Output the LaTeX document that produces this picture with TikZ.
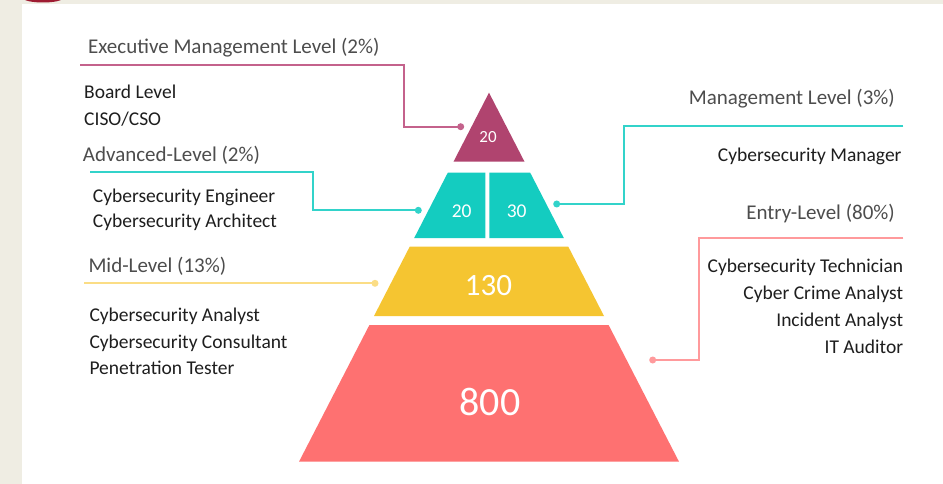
\documentclass[tikz,border=0pt]{standalone}
\usepackage{fontspec}
\setmainfont{Carlito}
\definecolor{cream}{HTML}{EFEDE3}
\definecolor{darkred}{HTML}{9E1B32}
\definecolor{magenta}{HTML}{B0446F}
\definecolor{teal}{HTML}{14CCC0}
\definecolor{gold}{HTML}{F5C531}
\definecolor{salmon}{HTML}{FE7171}
\definecolor{magline}{HTML}{C4628C}
\definecolor{tealline}{HTML}{32D3CA}
\definecolor{goldline}{HTML}{FBDD85}
\definecolor{salline}{HTML}{FF9A9C}
\definecolor{headgray}{HTML}{4D4D4D}
\definecolor{bodygray}{HTML}{1E1E1E}
\begin{document}
\begin{tikzpicture}[x=1pt,y=-1pt,
  heading/.style={inner sep=0pt,text=headgray,font=\fontsize{21}{25}\selectfont},
  bodytext/.style={inner sep=0pt,text=bodygray,font=\fontsize{19.5}{24}\selectfont},
  tiernum/.style={inner sep=0pt,text=white},
  leader/.style={line width=2.3pt},
  dotmark/.style={circle,inner sep=0pt,minimum size=7pt}
]
\useasboundingbox (0,0) rectangle (943,484);
\fill[cream] (0,0) rectangle (943,484);
\fill[white] (22,4) rectangle (943,484);
\begin{scope}
  \clip (0,0) rectangle (943,484);
  \fill[darkred] (43,-2) ellipse [x radius=20, y radius=4.5];
\end{scope}

% pyramid tiers
\fill[magenta] (489,92.7) -- (524.5,161.7) -- (453.5,161.7) -- cycle;
\fill[teal] (447.8,172.7) -- (485.3,172.7) -- (485.3,238) -- (414.2,238) -- cycle;
\fill[teal] (489.3,172.7) -- (530.2,172.7) -- (563.8,238) -- (489.3,238) -- cycle;
\fill[gold] (409.7,246.7) -- (568.3,246.7) -- (604,316) -- (374,316) -- cycle;
\fill[salmon] (369.4,325) -- (608.6,325) -- (679,461.7) -- (299,461.7) -- cycle;

\node[tiernum,font=\fontsize{17}{20}\selectfont] (n1) at (488,137) {20};
\node[tiernum,font=\fontsize{19.5}{22}\selectfont] (n2a) at (461.7,211) {20};
\node[tiernum,font=\fontsize{19.5}{22}\selectfont] (n2b) at (516.7,211) {30};
\node[tiernum,font=\fontsize{31}{36}\selectfont] (n3) at (488.5,286) {130};
\node[tiernum,font=\fontsize{40}{46}\selectfont] (n4) at (490,402) {800};

% dots on pyramid side
\node[dotmark,fill=magline] (d1) at (460.7,126.7) {};
\node[dotmark,fill=tealline] (d2) at (418.3,210.3) {};
\node[dotmark,fill=goldline] (d3) at (375,283.3) {};
\node[dotmark,fill=tealline] (d5) at (556.7,204) {};
\node[dotmark,fill=salline] (d4) at (652.7,360) {};

% line ends and bends
\coordinate (s1) at (80,65);   \coordinate (b1) at (404,65);
\coordinate (s2) at (90,172.3); \coordinate (b2) at (312.7,172.3);
\coordinate (s3) at (84.3,283.3);
\coordinate (s5) at (903.3,126.3); \coordinate (b5) at (624,126.3);
\coordinate (s4) at (903.3,238); \coordinate (b4) at (699,238);

\draw[leader,magline] (s1) -- (b1) |- (d1.center);
\draw[leader,tealline] (s2) -- (b2) |- (d2.center);
\draw[leader,goldline] (s3) -- (d3.center);
\draw[leader,tealline] (s5) -- (b5) |- (d5.center);
\draw[leader,salline] (s4) -- (b4) |- (d4.center);

% left texts
\node[heading,anchor=base west] (h1) at (88,54) {Executive Management Level (2\%)};
\node[bodytext,anchor=base west] (t1a) at (84,98.5) {Board Level};
\node[bodytext,anchor=base west] (t1b) at (84,125.2) {CISO/CSO};
\node[heading,anchor=base west] (h2) at (82.7,161.5) {Advanced-Level (2\%)};
\node[bodytext,anchor=base west] (t2a) at (92.7,202) {Cybersecurity Engineer};
\node[bodytext,anchor=base west] (t2b) at (92.7,227) {Cybersecurity Architect};
\node[heading,anchor=base west] (h3) at (88.3,272.5) {Mid-Level (13\%)};
\node[bodytext,anchor=base west] (t3a) at (89.3,321) {Cybersecurity Analyst};
\node[bodytext,anchor=base west] (t3b) at (89.3,348) {Cybersecurity Consultant};
\node[bodytext,anchor=base west] (t3c) at (89.3,374.7) {Penetration Tester};

% right texts
\node[heading,anchor=base east] (h5) at (895,104.3) {Management Level (3\%)};
\node[bodytext,anchor=base east] (t5a) at (901.7,162) {Cybersecurity Manager};
\node[heading,anchor=base east] (h4) at (895,219.5) {Entry-Level (80\%)};
\node[bodytext,anchor=base east] (t4a) at (903.3,272) {Cybersecurity Technician};
\node[bodytext,anchor=base east] (t4b) at (903.3,299.7) {Cyber Crime Analyst};
\node[bodytext,anchor=base east] (t4c) at (903.3,326.3) {Incident Analyst};
\node[bodytext,anchor=base east] (t4d) at (903.3,353) {IT Auditor};
\end{tikzpicture}
\end{document}
